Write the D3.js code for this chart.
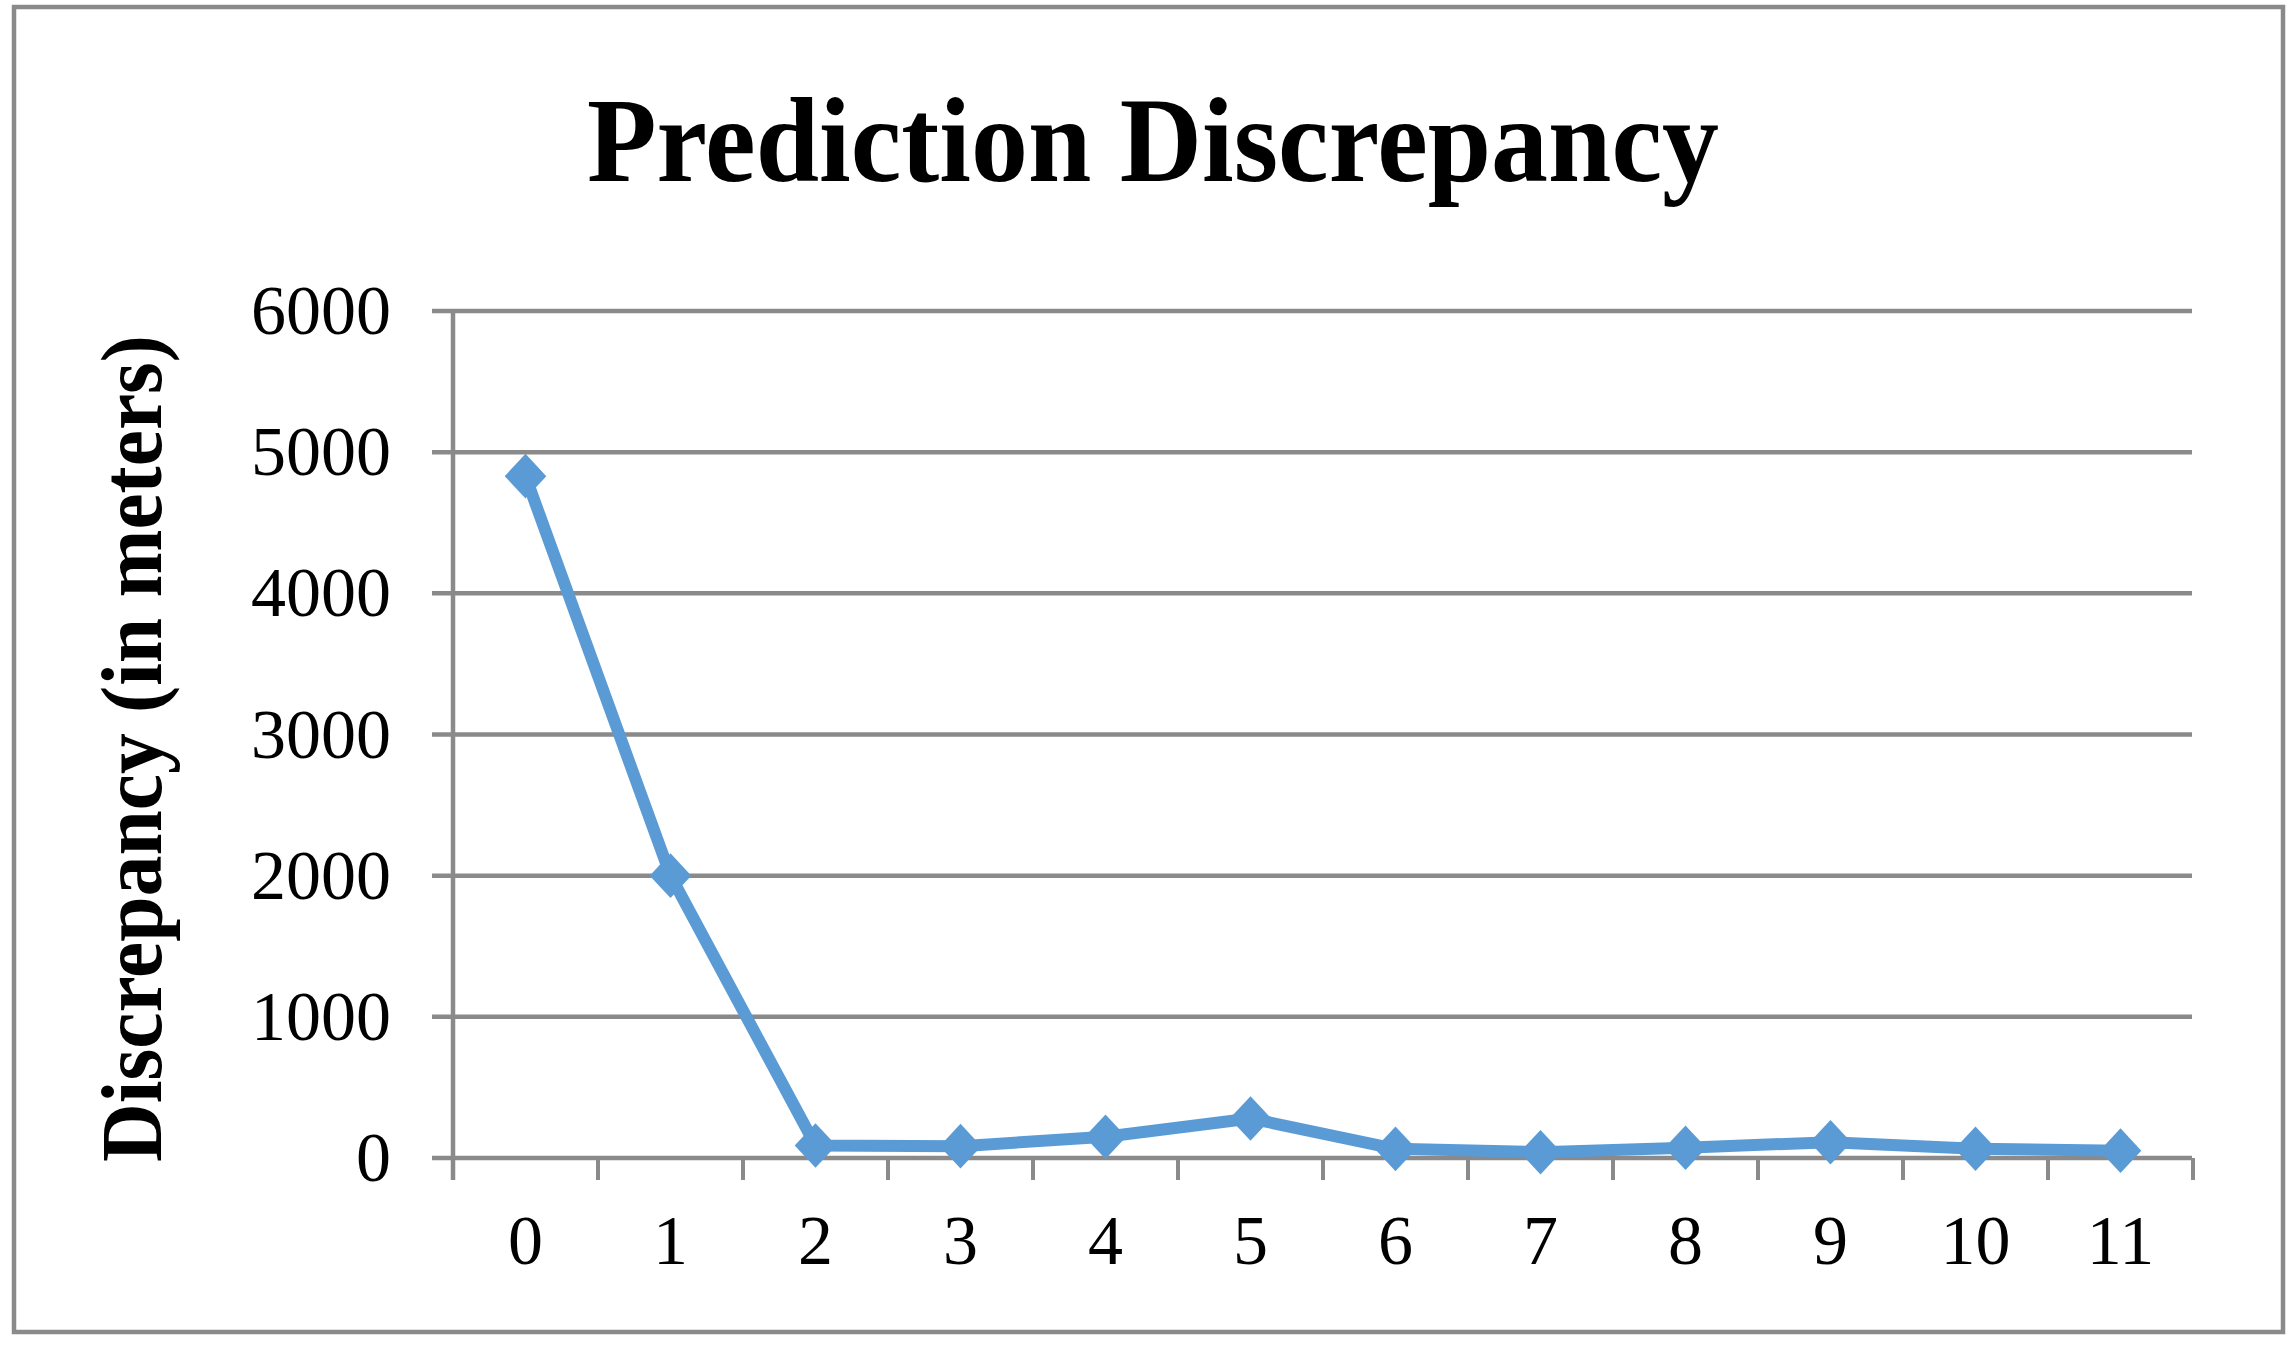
<!DOCTYPE html>
<html>
<head>
<meta charset="utf-8">
<script src="https://cdn.jsdelivr.net/npm/d3@7"></script>
<style>
  html, body { margin: 0; padding: 0; background: #fff; }
  svg { display: block; }
</style>
</head>
<body>
<script>
const categories = ["0","1","2","3","4","5","6","7","8","9","10","11"];
const discrepancy = [4830, 2000, 89, 84, 151, 280, 65, 41, 73, 112, 66, 52];
const yTicks = [0, 1000, 2000, 3000, 4000, 5000, 6000];
const titleText = "Prediction Discrepancy";
const yLabelText = "Discrepancy (in meters)";

const W = 2294, H = 1345;
const gray = "#8a8a8a";
const blue = "#5B9BD5";
const serif = "'Liberation Serif', 'DejaVu Serif', serif";

const svg = d3.select("body").append("svg").attr("width", W).attr("height", H);

// outer border
svg.append("rect").attr("x", 14).attr("y", 7).attr("width", 2269).attr("height", 1325)
  .attr("fill", "#fff").attr("stroke", gray).attr("stroke-width", 4.5);

const x = d3.scaleBand().domain(categories).range([453, 2193]).padding(0);
const y = d3.scaleLinear().domain([0, 6000]).range([1158, 311]);

// gridlines (with tick extension to the left)
svg.append("g").selectAll("line").data(yTicks).join("line")
  .attr("x1", 432).attr("x2", 2192)
  .attr("y1", d => y(d)).attr("y2", d => y(d))
  .attr("stroke", gray).attr("stroke-width", 4.5);

// y axis line
svg.append("line").attr("x1", 453).attr("x2", 453).attr("y1", y(6000) - 2).attr("y2", 1180)
  .attr("stroke", gray).attr("stroke-width", 4.5);

// x ticks at band boundaries
const boundaries = categories.map(c => x(c)).concat([x.range()[1]]);
svg.append("g").selectAll("line").data(boundaries).join("line")
  .attr("x1", d => d).attr("x2", d => d).attr("y1", 1158).attr("y2", 1180)
  .attr("stroke", gray).attr("stroke-width", 4);

// y tick labels
svg.append("g").selectAll("text").data(yTicks).join("text")
  .attr("x", 391).attr("y", d => y(d) + 23)
  .attr("text-anchor", "end")
  .attr("font-family", serif).attr("font-size", 70).attr("fill", "#000")
  .text(d => d);

// x tick labels
svg.append("g").selectAll("text").data(categories).join("text")
  .attr("x", d => x(d) + x.bandwidth() / 2).attr("y", 1264)
  .attr("text-anchor", "middle")
  .attr("font-family", serif).attr("font-size", 70).attr("fill", "#000")
  .text(d => d);

// title
svg.append("text").attr("x", 587).attr("y", 181)
  .attr("font-family", serif).attr("font-weight", "bold").attr("font-size", 120)
  .attr("textLength", 1132).attr("lengthAdjust", "spacingAndGlyphs")
  .text(titleText);

// y label
svg.append("text").attr("transform", "translate(161,1162) rotate(-90)")
  .attr("x", 0).attr("y", 0)
  .attr("font-family", serif).attr("font-weight", "bold").attr("font-size", 87)
  .attr("textLength", 827).attr("lengthAdjust", "spacingAndGlyphs")
  .text(yLabelText);

// line
const cx = d => x(d) + x.bandwidth() / 2;
const line = d3.line().x((d, i) => cx(categories[i])).y(d => y(d));
svg.append("path").datum(discrepancy).attr("d", line)
  .attr("fill", "none").attr("stroke", blue).attr("stroke-width", 12)
  .attr("stroke-linejoin", "round");

// diamond markers
const diamond = d3.symbol(d3.symbolSquare, 920)();
svg.append("g").selectAll("path").data(discrepancy).join("path")
  .attr("d", diamond)
  .attr("transform", (d, i) => `translate(${cx(categories[i])},${y(d)}) scale(0.97,1.04) rotate(45)`)
  .attr("fill", blue);
</script>
</body>
</html>
